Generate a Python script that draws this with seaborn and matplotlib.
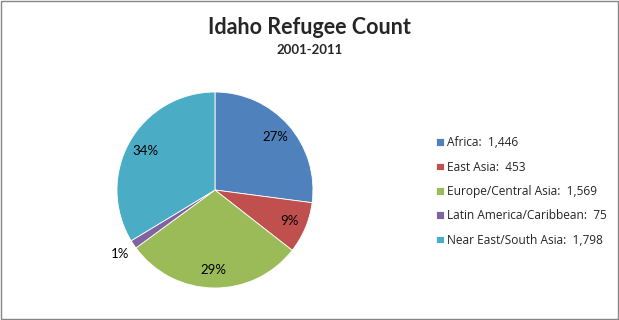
import numpy as np
import matplotlib
matplotlib.use("Agg")
import matplotlib.pyplot as plt
import seaborn as sns

# data
regions = ["Africa", "East Asia", "Europe/Central Asia",
           "Latin America/Caribbean", "Near East/South Asia"]
counts = [1446, 453, 1569, 75, 1798]
pct_labels = ["27%", "9%", "29%", "1%", "34%"]
colors = ["#4F81BD", "#C0504D", "#9BBB59", "#8064A2", "#4BACC6"]

sns.set_theme(style="white")
plt.rcParams["font.family"] = ["Lato", "DejaVu Sans"]

fig = plt.figure(figsize=(6.19, 3.2), dpi=100)
ax = fig.add_axes([0.189, 0.1, 0.3166, 0.6125])

wedges, _ = ax.pie(counts, colors=sns.color_palette(colors), startangle=90,
                   counterclock=False, radius=1,
                   wedgeprops=dict(linewidth=0.6, edgecolor="white"))
ax.set_xlim(-1, 1)
ax.set_ylim(-1, 1)
ax.set_aspect("equal")
ax.axis("off")

total = sum(counts)
for w, c, lab in zip(wedges, counts, pct_labels):
    frac = c / total
    ang = np.deg2rad((w.theta1 + w.theta2) / 2)
    # tiny slices get their label outside, as Excel does
    r = 1.17 if frac < 0.05 else 0.82
    ax.text(r * np.cos(ang), r * np.sin(ang), lab,
            ha="center", va="center", fontsize=9.5, color="black", clip_on=False)

labels = [f"{r}:  {c:,}" for r, c in zip(regions, counts)]
fig.legend(wedges, labels, loc="upper left", bbox_to_anchor=(0.705, 0.574),
           frameon=False, handlelength=0.62, handleheight=0.62,
           handletextpad=0.3, labelspacing=0.95, borderaxespad=0, borderpad=0,
           prop={"family": ["Open Sans", "DejaVu Sans"], "size": 8.6})

fig.text(0.5, 0.915, "Idaho Refugee Count", ha="center", va="center",
         fontsize=15.5, fontweight="bold")
fig.text(0.5, 0.843, "2001-2011", ha="center", va="center",
         fontsize=9.5, fontweight="bold")

# chart-area border
fig.patches.append(plt.Rectangle((0.001, 0.002), 0.997, 0.995, transform=fig.transFigure,
                                 fill=False, edgecolor="#868686", linewidth=1))

fig.savefig("out.png", dpi=100)
